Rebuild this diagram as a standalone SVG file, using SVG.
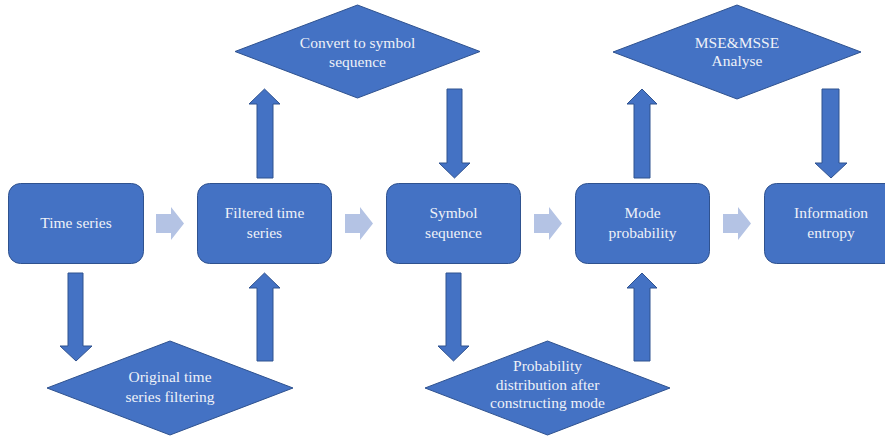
<svg xmlns="http://www.w3.org/2000/svg" width="885" height="436" viewBox="0 0 885 436">
<style>
.box{fill:#4472c4;stroke:#2f528f;stroke-width:1}
.dia{fill:#4472c4;stroke:#2f528f;stroke-width:1}
.arr{fill:#4472c4;stroke:#2f528f;stroke-width:1}
.lt{fill:#b4c3e4;stroke:none}
text{font-family:"Liberation Serif","Times New Roman",serif;font-size:15.5px;fill:#eef1f8;text-anchor:middle}
</style>
<rect width="885" height="436" fill="#ffffff"/>
<g id="connectors">
<!-- light right arrows -->
<polygon class="lt" points="156,214 171,214 171,207 184,223.5 171,240 171,233 156,233"/>
<polygon class="lt" points="345,214 360,214 360,207 373,223.5 360,240 360,233 345,233"/>
<polygon class="lt" points="534,214 549,214 549,207 562,223.5 549,240 549,233 534,233"/>
<polygon class="lt" points="723,214 738,214 738,207 751,223.5 738,240 738,233 723,233"/>
<!-- Time series down -->
<polygon class="arr" points="68,273 83,273 83,346 92,346 76,361 60,346 68,346"/>
<!-- up to Filtered -->
<polygon class="arr" points="257,361 273,361 273,288 280,288 264.5,273 249,288 257,288"/>
<!-- Filtered up to Convert -->
<polygon class="arr" points="257,178 273,178 273,104 280,104 264.5,89 249,104 257,104"/>
<!-- Convert down to Symbol -->
<polygon class="arr" points="447,89 462,89 462,163 470,163 454.5,178 439,163 447,163"/>
<!-- Symbol down to Probability -->
<polygon class="arr" points="446,273 461,273 461,346 469,346 453.5,361 438,346 446,346"/>
<!-- Probability up to Mode -->
<polygon class="arr" points="634,361 650,361 650,288 657,288 642,273 627,288 634,288"/>
<!-- Mode up to MSE -->
<polygon class="arr" points="634,178 650,178 650,104 657,104 642,89 627,104 634,104"/>
<!-- MSE down to Information -->
<polygon class="arr" points="822,89 839,89 839,163 847,163 831,178 815,163 822,163"/>
</g>
<g id="n1"><rect class="box" x="8.5" y="183.5" width="135" height="80" rx="12"/><text x="76" y="228">Time series</text></g>
<g id="n2"><rect class="box" x="197.5" y="183.5" width="134" height="80" rx="12"/><text x="264.5" y="218">Filtered time</text><text x="264.5" y="238">series</text></g>
<g id="n3"><rect class="box" x="386.5" y="183.5" width="134" height="80" rx="12"/><text x="453.5" y="218">Symbol</text><text x="453.5" y="238">sequence</text></g>
<g id="n4"><rect class="box" x="575.5" y="183.5" width="134" height="80" rx="12"/><text x="642.5" y="218">Mode</text><text x="642.5" y="238">probability</text></g>
<g id="n5"><rect class="box" x="764.5" y="183.5" width="134" height="80" rx="12"/><text x="831" y="218">Information</text><text x="831" y="238">entropy</text></g>
<g id="d1"><polygon class="dia" points="170,341 293,388 170,435 47,388"/><text x="170" y="382">Original time</text><text x="170" y="402">series filtering</text></g>
<g id="d2"><polygon class="dia" points="357.5,5 480,51.5 357.5,98 235,51.5"/><text x="357.5" y="48">Convert to symbol</text><text x="357.5" y="67">sequence</text></g>
<g id="d3"><polygon class="dia" points="737,5 861,52 737,99 613,52"/><text x="737" y="48">MSE&amp;MSSE</text><text x="737" y="66">Analyse</text></g>
<g id="d4"><polygon class="dia" points="547.5,341 670,388 547.5,435 425,388"/><text x="547.5" y="371">Probability</text><text x="547.5" y="389.5">distribution after</text><text x="547.5" y="408">constructing mode</text></g>
</svg>
